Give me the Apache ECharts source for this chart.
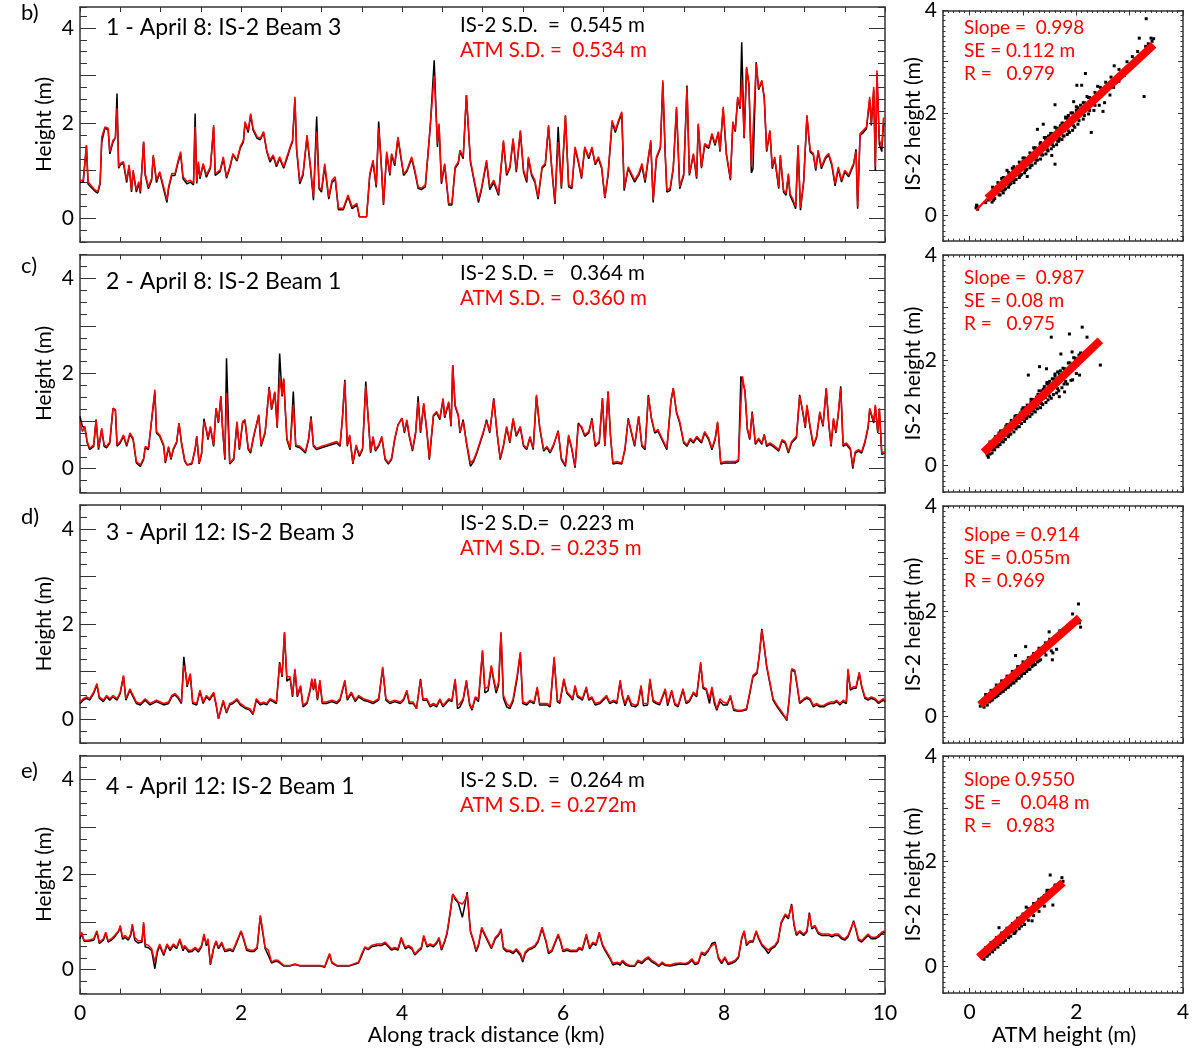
<!DOCTYPE html>
<html>
<head>
<meta charset="utf-8">
<script src="https://cdn.jsdelivr.net/npm/echarts@6/dist/echarts.min.js"></script>
<style>
html, body { margin: 0; padding: 0; background: #fff; }
#main { width: 1194px; height: 1048px; }
</style>
</head>
<body>
<div id="main"></div>
<script>
// ---- profile 1 : April 8, beam 3 ----
var dist1 = [
  0, 0.04, 0.08, 0.10, 0.15, 0.19, 0.22, 0.25, 0.27, 0.31,
  0.35, 0.37, 0.41, 0.44, 0.46, 0.48, 0.50, 0.54, 0.58, 0.61,
  0.64, 0.66, 0.70, 0.73, 0.75, 0.79, 0.81, 0.85, 0.89, 0.91,
  0.95, 0.99, 1.04, 1.08, 1.10, 1.14, 1.18, 1.22, 1.25, 1.28,
  1.33, 1.37, 1.41, 1.43, 1.45, 1.47, 1.49, 1.53, 1.57, 1.62,
  1.66, 1.68, 1.74, 1.78, 1.82, 1.86, 1.90, 1.95, 1.99, 2.03,
  2.05, 2.09, 2.12, 2.15, 2.20, 2.24, 2.28, 2.32, 2.36, 2.40,
  2.44, 2.48, 2.53, 2.57, 2.61, 2.64, 2.67, 2.69, 2.73, 2.77,
  2.82, 2.86, 2.90, 2.94, 2.97, 3.00, 3.04, 3.09, 3.13, 3.17,
  3.21, 3.27, 3.33, 3.38, 3.44, 3.47, 3.56, 3.60, 3.64, 3.68,
  3.71, 3.74, 3.77, 3.81, 3.85, 3.87, 3.91, 3.95, 4.02, 4.06,
  4.12, 4.16, 4.20, 4.24, 4.29, 4.35, 4.40, 4.44, 4.46, 4.49,
  4.53, 4.58, 4.62, 4.66, 4.70, 4.72, 4.76, 4.80, 4.85, 4.89,
  4.95, 4.99, 5.05, 5.09, 5.14, 5.20, 5.26, 5.30, 5.34, 5.38,
  5.42, 5.47, 5.49, 5.51, 5.55, 5.57, 5.61, 5.65, 5.69, 5.74,
  5.78, 5.82, 5.86, 5.90, 5.94, 5.98, 6.03, 6.07, 6.11, 6.15,
  6.19, 6.23, 6.27, 6.32, 6.36, 6.40, 6.44, 6.48, 6.52, 6.56,
  6.61, 6.65, 6.69, 6.73, 6.76, 6.81, 6.85, 6.89, 6.94, 6.98,
  7.02, 7.06, 7.09, 7.12, 7.16, 7.21, 7.24, 7.27, 7.29, 7.33,
  7.37, 7.41, 7.45, 7.50, 7.54, 7.57, 7.62, 7.66, 7.68, 7.72,
  7.76, 7.81, 7.85, 7.89, 7.93, 7.95, 7.99, 8.03, 8.08, 8.11,
  8.14, 8.17, 8.20, 8.22, 8.25, 8.28, 8.31, 8.34, 8.36, 8.40,
  8.43, 8.47, 8.50, 8.53, 8.57, 8.60, 8.63, 8.68, 8.70, 8.74,
  8.77, 8.80, 8.82, 8.86, 8.89, 8.92, 8.95, 8.99, 9.03, 9.07,
  9.11, 9.14, 9.17, 9.21, 9.26, 9.30, 9.34, 9.38, 9.42, 9.46,
  9.50, 9.55, 9.59, 9.61, 9.64, 9.66, 9.69, 9.73, 9.77, 9.81,
  9.83, 9.86, 9.88, 9.90, 9.93, 9.96, 9.98, 10.0
];
var atm1 = [
  0.80, 0.80, 1.54, 0.77, 0.66, 0.59, 0.56, 0.75, 1.71, 1.92,
  1.89, 1.40, 1.64, 1.68, 2.31, 1.08, 1.15, 1.19, 0.80, 1.12,
  0.59, 1.01, 0.59, 0.77, 0.56, 1.61, 0.94, 0.66, 0.84, 1.33,
  0.80, 0.98, 0.66, 0.38, 0.66, 0.94, 0.94, 1.22, 1.40, 0.87,
  0.77, 0.80, 0.73, 1.92, 0.77, 1.19, 0.87, 1.15, 0.91, 1.08,
  1.96, 0.94, 1.01, 1.29, 0.87, 1.08, 1.36, 1.22, 1.50, 1.64,
  2.03, 1.85, 2.20, 1.89, 1.71, 1.68, 1.82, 1.43, 1.22, 1.33,
  1.12, 1.29, 1.08, 1.29, 1.50, 1.64, 2.55, 1.50, 0.77, 0.94,
  1.75, 1.15, 0.45, 1.82, 0.66, 0.59, 1.15, 0.45, 0.80, 0.87,
  0.21, 0.21, 0.49, 0.24, 0.31, 0.03, 0.03, 0.94, 1.22, 0.70,
  1.89, 1.22, 0.31, 1.40, 0.94, 1.36, 1.15, 1.71, 0.94, 1.01,
  1.29, 1.01, 0.66, 0.63, 0.70, 1.92, 3.00, 1.57, 1.99, 0.77,
  1.15, 0.31, 0.31, 1.08, 1.19, 1.43, 1.29, 2.59, 1.22, 0.87,
  0.38, 0.66, 1.22, 0.66, 0.80, 0.52, 1.64, 0.94, 1.08, 1.68,
  1.01, 1.85, 1.89, 1.01, 0.80, 1.29, 0.94, 0.80, 0.45, 1.08,
  1.15, 1.96, 1.08, 0.35, 1.60, 0.66, 2.17, 0.70, 0.66, 1.50,
  1.22, 0.87, 1.50, 1.29, 1.50, 1.15, 1.29, 1.08, 0.45, 0.94,
  2.06, 1.85, 2.06, 2.24, 0.63, 1.08, 0.94, 0.80, 0.94, 1.15,
  0.80, 1.29, 1.64, 0.38, 1.29, 1.50, 2.90, 1.36, 0.59, 0.63,
  1.08, 2.34, 0.66, 0.94, 2.76, 0.94, 1.36, 0.87, 1.99, 1.08,
  1.57, 1.50, 1.78, 1.57, 1.82, 1.43, 2.34, 1.36, 0.84, 2.03,
  1.85, 2.55, 2.34, 2.90, 1.71, 3.18, 2.83, 1.08, 1.08, 3.25,
  2.73, 2.90, 2.55, 1.43, 1.85, 1.08, 1.29, 0.66, 1.33, 0.59,
  0.52, 0.94, 0.52, 0.38, 0.24, 1.54, 0.21, 0.80, 2.17, 1.43,
  1.36, 1.05, 1.43, 1.08, 1.29, 1.36, 1.15, 0.73, 1.08, 0.80,
  1.01, 0.91, 1.08, 1.15, 1.40, 0.24, 1.78, 1.85, 1.92, 2.55,
  1.99, 2.76, 1.08, 3.11, 1.64, 1.50, 2.10, 2.10
];
var is2_1 = [
  0.75, 0.76, 1.52, 0.72, 0.63, 0.56, 0.53, 0.72, 1.60, 1.90,
  1.85, 1.35, 1.60, 1.70, 2.62, 1.05, 1.12, 1.15, 0.75, 1.10,
  0.55, 0.98, 0.55, 0.73, 0.52, 1.60, 0.90, 0.62, 0.80, 1.30,
  0.75, 0.95, 0.60, 0.33, 0.62, 0.90, 0.90, 1.18, 1.35, 0.83,
  0.72, 0.76, 0.70, 2.20, 0.73, 1.15, 0.83, 1.12, 0.86, 1.05,
  1.92, 0.90, 0.98, 1.25, 0.84, 1.05, 1.33, 1.20, 1.47, 1.60,
  2.00, 1.80, 2.17, 1.85, 1.68, 1.65, 1.80, 1.40, 1.18, 1.30,
  1.08, 1.25, 1.05, 1.25, 1.47, 1.60, 2.50, 1.45, 0.72, 0.90,
  1.70, 1.10, 0.38, 2.14, 0.62, 0.55, 1.10, 0.40, 0.75, 0.82,
  0.18, 0.18, 0.45, 0.20, 0.28, 0.03, 0.03, 0.90, 1.18, 0.65,
  2.03, 1.18, 0.28, 1.35, 0.90, 1.33, 1.10, 1.68, 0.90, 0.98,
  1.25, 0.97, 0.63, 0.60, 0.66, 1.90, 3.32, 1.50, 1.95, 0.72,
  1.12, 0.28, 0.28, 1.05, 1.15, 1.40, 1.25, 2.59, 1.18, 0.83,
  0.33, 0.62, 1.18, 0.60, 0.75, 0.48, 1.60, 0.90, 1.05, 1.65,
  0.97, 1.82, 1.85, 0.97, 0.75, 1.25, 0.90, 0.76, 0.40, 1.05,
  1.12, 1.92, 1.04, 0.30, 1.92, 0.62, 2.15, 0.66, 0.62, 1.47,
  1.18, 0.83, 1.47, 1.25, 1.47, 1.12, 1.25, 1.05, 0.42, 0.90,
  2.02, 1.80, 2.02, 2.20, 0.58, 1.05, 0.90, 0.76, 0.90, 1.10,
  0.75, 1.25, 1.60, 0.33, 1.25, 1.47, 2.85, 1.33, 0.55, 0.58,
  1.05, 2.30, 0.62, 0.90, 2.79, 0.90, 1.33, 0.83, 1.96, 1.05,
  1.53, 1.47, 1.75, 1.53, 1.80, 1.40, 2.30, 1.33, 0.80, 2.00,
  1.82, 2.52, 2.30, 3.70, 1.68, 3.15, 2.80, 0.95, 1.04, 3.28,
  2.70, 2.87, 2.52, 1.40, 1.82, 1.04, 1.25, 0.62, 1.30, 0.55,
  0.48, 0.90, 0.48, 0.33, 0.20, 1.50, 0.17, 0.76, 2.14, 1.40,
  1.33, 1.00, 1.40, 1.04, 1.25, 1.33, 1.10, 0.68, 1.04, 0.76,
  0.97, 0.87, 1.04, 1.12, 1.45, 0.20, 1.74, 1.80, 1.88, 2.50,
  1.95, 2.70, 1.00, 3.05, 1.55, 1.40, 1.95, 2.00
];

// ---- profile 2 : April 8, beam 1 ----
var dist2 = [
  0, 0.03, 0.06, 0.09, 0.12, 0.17, 0.20, 0.23, 0.27, 0.30,
  0.33, 0.37, 0.41, 0.44, 0.46, 0.50, 0.54, 0.58, 0.62, 0.66,
  0.70, 0.75, 0.79, 0.81, 0.85, 0.88, 0.90, 0.93, 0.95, 0.99,
  1.04, 1.06, 1.10, 1.13, 1.16, 1.20, 1.23, 1.26, 1.30, 1.33,
  1.39, 1.43, 1.45, 1.48, 1.51, 1.54, 1.57, 1.59, 1.62, 1.66,
  1.69, 1.72, 1.75, 1.77, 1.80, 1.82, 1.86, 1.91, 1.95, 1.98,
  2.02, 2.05, 2.09, 2.12, 2.15, 2.22, 2.25, 2.30, 2.35, 2.38,
  2.42, 2.45, 2.48, 2.51, 2.53, 2.57, 2.61, 2.65, 2.68, 2.73,
  2.80, 2.84, 2.87, 2.90, 2.94, 3.00, 3.06, 3.13, 3.19, 3.23,
  3.26, 3.29, 3.32, 3.35, 3.39, 3.43, 3.47, 3.51, 3.55, 3.58,
  3.61, 3.64, 3.67, 3.71, 3.75, 3.79, 3.83, 3.87, 3.91, 3.95,
  4.00, 4.03, 4.06, 4.09, 4.13, 4.17, 4.20, 4.23, 4.27, 4.31,
  4.34, 4.39, 4.43, 4.47, 4.51, 4.53, 4.58, 4.61, 4.63, 4.66,
  4.70, 4.72, 4.76, 4.80, 4.85, 4.89, 4.93, 4.97, 5.01, 5.05,
  5.09, 5.14, 5.18, 5.22, 5.26, 5.30, 5.34, 5.38, 5.42, 5.47,
  5.51, 5.55, 5.59, 5.63, 5.67, 5.71, 5.76, 5.80, 5.84, 5.88,
  5.94, 5.98, 6.03, 6.07, 6.11, 6.15, 6.19, 6.23, 6.27, 6.32,
  6.36, 6.40, 6.45, 6.49, 6.52, 6.56, 6.59, 6.62, 6.67, 6.73,
  6.77, 6.81, 6.85, 6.89, 6.94, 6.98, 7.02, 7.06, 7.10, 7.14,
  7.18, 7.23, 7.29, 7.34, 7.37, 7.41, 7.45, 7.50, 7.54, 7.58,
  7.62, 7.66, 7.72, 7.76, 7.81, 7.85, 7.89, 7.92, 7.96, 8.01,
  8.08, 8.14, 8.18, 8.21, 8.23, 8.26, 8.29, 8.32, 8.35, 8.39,
  8.43, 8.47, 8.50, 8.53, 8.57, 8.61, 8.68, 8.72, 8.76, 8.80,
  8.84, 8.90, 8.94, 8.98, 9.01, 9.03, 9.07, 9.11, 9.15, 9.19,
  9.23, 9.27, 9.30, 9.33, 9.36, 9.39, 9.42, 9.45, 9.48, 9.52,
  9.57, 9.60, 9.63, 9.67, 9.71, 9.75, 9.79, 9.81, 9.86, 9.88,
  9.91, 9.93, 9.96, 10.0
];
var atm2 = [
  0.99, 0.78, 0.89, 0.57, 0.43, 0.50, 1.03, 0.43, 0.85, 0.50,
  0.47, 0.57, 1.27, 1.24, 0.50, 0.57, 0.71, 0.50, 0.75, 0.64,
  0.15, 0.08, 0.22, 0.47, 0.43, 0.89, 1.20, 1.66, 0.78, 0.71,
  0.50, 0.15, 0.47, 0.22, 0.43, 0.57, 0.96, 0.57, 0.19, 0.08,
  0.12, 0.43, 0.68, 0.12, 0.33, 0.99, 0.82, 0.64, 0.89, 0.50,
  1.27, 0.99, 1.52, 0.89, 0.22, 1.59, 0.12, 0.22, 0.99, 0.43,
  0.99, 1.03, 0.43, 0.36, 0.64, 1.13, 0.50, 0.78, 1.69, 1.27,
  1.62, 0.89, 1.90, 1.55, 1.90, 0.64, 0.43, 1.34, 0.50, 0.47,
  0.36, 0.64, 1.06, 0.50, 0.43, 0.47, 0.50, 0.54, 0.57, 0.50,
  1.06, 1.83, 0.50, 0.71, 0.12, 0.50, 0.29, 0.43, 1.73, 1.06,
  0.36, 0.68, 0.40, 0.50, 0.68, 0.22, 0.12, 0.22, 0.64, 0.92,
  1.06, 0.78, 1.03, 0.71, 0.40, 0.78, 1.41, 0.78, 1.38, 0.78,
  0.22, 1.13, 1.20, 1.06, 1.48, 1.10, 1.41, 0.92, 2.18, 1.34,
  1.13, 0.78, 0.99, 0.57, 0.12, 0.19, 0.36, 0.57, 0.78, 0.99,
  0.78, 1.45, 0.78, 0.22, 0.50, 0.89, 0.57, 1.06, 0.71, 0.89,
  0.50, 0.43, 0.68, 0.43, 1.55, 0.89, 0.40, 0.47, 0.36, 0.50,
  0.78, 0.22, 0.08, 0.71, 0.43, 0.05, 0.92, 0.89, 0.71, 0.78,
  1.03, 0.50, 0.57, 1.48, 0.50, 1.62, 0.71, 0.12, 0.15, 0.12,
  0.43, 1.03, 0.78, 0.50, 1.10, 0.50, 0.43, 1.52, 1.06, 0.78,
  0.82, 0.64, 0.43, 1.41, 1.69, 1.20, 0.99, 0.57, 0.50, 0.64,
  0.57, 0.68, 0.57, 0.78, 0.64, 0.43, 0.64, 0.99, 0.12, 0.15,
  0.15, 0.15, 0.19, 1.34, 1.94, 1.62, 0.85, 0.64, 1.17, 0.54,
  0.64, 0.54, 0.71, 0.50, 0.54, 0.50, 0.40, 0.61, 0.57, 0.36,
  0.57, 0.68, 1.52, 1.20, 0.89, 1.34, 0.89, 0.50, 0.68, 1.20,
  0.92, 1.69, 0.99, 0.50, 1.06, 0.78, 1.17, 1.69, 0.50, 0.54,
  0.43, 0.05, 0.36, 0.40, 0.36, 0.57, 0.89, 1.27, 0.99, 1.34,
  0.78, 1.27, 0.33, 0.36
];
var is2_2 = [
  1.10, 0.89, 0.86, 0.54, 0.40, 0.47, 1.03, 0.40, 0.82, 0.47,
  0.44, 0.54, 1.27, 1.22, 0.47, 0.54, 0.68, 0.47, 0.72, 0.61,
  0.12, 0.05, 0.19, 0.44, 0.40, 0.86, 1.17, 1.60, 0.75, 0.68,
  0.47, 0.12, 0.44, 0.19, 0.40, 0.54, 0.96, 0.54, 0.16, 0.08,
  0.10, 0.40, 0.68, 0.10, 0.30, 1.05, 0.80, 0.61, 0.86, 0.47,
  1.27, 0.96, 1.52, 0.86, 0.19, 2.32, 0.10, 0.19, 0.96, 0.40,
  0.96, 1.00, 0.40, 0.33, 0.61, 1.13, 0.47, 0.75, 1.72, 1.24,
  1.60, 0.86, 2.42, 1.52, 1.88, 0.61, 0.40, 1.62, 0.47, 0.44,
  0.33, 0.61, 1.10, 0.47, 0.40, 0.44, 0.47, 0.51, 0.54, 0.47,
  1.06, 1.87, 0.47, 0.68, 0.10, 0.47, 0.26, 0.40, 1.83, 1.06,
  0.33, 0.65, 0.37, 0.47, 0.65, 0.19, 0.10, 0.19, 0.61, 0.92,
  1.06, 0.75, 1.00, 0.68, 0.37, 0.75, 1.52, 0.75, 1.35, 0.75,
  0.19, 1.10, 1.17, 1.03, 1.45, 1.07, 1.38, 0.89, 2.18, 1.31,
  1.10, 0.75, 1.03, 0.54, 0.05, 0.15, 0.33, 0.54, 0.75, 1.03,
  0.75, 1.48, 0.75, 0.19, 0.47, 0.86, 0.54, 1.03, 0.68, 0.86,
  0.47, 0.40, 0.65, 0.40, 1.52, 0.86, 0.37, 0.44, 0.33, 0.47,
  0.80, 0.19, 0.05, 0.68, 0.40, 0.02, 0.96, 0.86, 0.68, 0.75,
  1.06, 0.47, 0.54, 1.48, 0.47, 1.62, 0.68, 0.10, 0.12, 0.10,
  0.40, 1.06, 0.75, 0.47, 1.10, 0.47, 0.40, 1.55, 1.03, 0.75,
  0.79, 0.61, 0.40, 1.41, 1.69, 1.17, 0.96, 0.54, 0.47, 0.61,
  0.54, 0.65, 0.54, 0.75, 0.61, 0.40, 0.61, 0.96, 0.10, 0.12,
  0.12, 0.12, 0.16, 1.94, 1.97, 1.65, 0.82, 0.61, 1.20, 0.51,
  0.61, 0.51, 0.72, 0.47, 0.51, 0.47, 0.37, 0.58, 0.54, 0.33,
  0.54, 0.65, 1.55, 1.17, 0.86, 1.31, 0.86, 0.47, 0.65, 1.17,
  0.89, 1.69, 0.96, 0.47, 1.03, 0.75, 1.14, 1.73, 0.47, 0.51,
  0.40, 0.00, 0.33, 0.37, 0.33, 0.54, 0.86, 1.24, 0.96, 1.31,
  0.75, 1.24, 0.30, 0.33
];

// ---- profile 3 : April 12, beam 3 ----
var dist3 = [
  0, 0.04, 0.08, 0.12, 0.17, 0.21, 0.24, 0.29, 0.33, 0.37,
  0.41, 0.46, 0.50, 0.54, 0.57, 0.62, 0.66, 0.70, 0.75, 0.81,
  0.87, 0.95, 1.04, 1.10, 1.14, 1.18, 1.22, 1.26, 1.29, 1.32,
  1.33, 1.37, 1.40, 1.45, 1.49, 1.53, 1.57, 1.61, 1.66, 1.69,
  1.72, 1.75, 1.78, 1.82, 1.86, 1.90, 1.95, 1.99, 2.05, 2.11,
  2.15, 2.19, 2.24, 2.28, 2.32, 2.36, 2.40, 2.44, 2.48, 2.51,
  2.54, 2.57, 2.61, 2.64, 2.67, 2.70, 2.74, 2.77, 2.82, 2.86,
  2.88, 2.90, 2.92, 2.95, 2.98, 3.01, 3.06, 3.13, 3.19, 3.23,
  3.29, 3.32, 3.37, 3.42, 3.46, 3.52, 3.58, 3.64, 3.71, 3.76,
  3.80, 3.85, 3.91, 3.98, 4.02, 4.06, 4.09, 4.14, 4.18, 4.23,
  4.26, 4.31, 4.35, 4.39, 4.43, 4.47, 4.51, 4.58, 4.62, 4.66,
  4.69, 4.72, 4.76, 4.80, 4.84, 4.87, 4.91, 4.95, 5.00, 5.03,
  5.07, 5.11, 5.14, 5.17, 5.20, 5.23, 5.26, 5.30, 5.34, 5.38,
  5.43, 5.47, 5.50, 5.55, 5.59, 5.64, 5.68, 5.71, 5.76, 5.80,
  5.84, 5.89, 5.93, 5.96, 6.01, 6.05, 6.09, 6.12, 6.15, 6.18,
  6.21, 6.24, 6.29, 6.32, 6.36, 6.40, 6.46, 6.50, 6.54, 6.58,
  6.63, 6.67, 6.71, 6.74, 6.77, 6.81, 6.85, 6.90, 6.93, 6.97,
  7.00, 7.05, 7.08, 7.12, 7.16, 7.20, 7.27, 7.30, 7.35, 7.39,
  7.43, 7.49, 7.53, 7.57, 7.62, 7.66, 7.71, 7.74, 7.78, 7.82,
  7.85, 7.88, 7.91, 7.95, 7.99, 8.04, 8.08, 8.12, 8.16, 8.22,
  8.28, 8.32, 8.36, 8.41, 8.44, 8.47, 8.50, 8.53, 8.57, 8.61,
  8.66, 8.72, 8.76, 8.78, 8.81, 8.84, 8.88, 8.91, 8.94, 8.99,
  9.03, 9.07, 9.11, 9.15, 9.19, 9.24, 9.28, 9.32, 9.36, 9.40,
  9.44, 9.48, 9.52, 9.54, 9.57, 9.61, 9.64, 9.68, 9.71, 9.75,
  9.79, 9.83, 9.88, 9.92, 9.94, 9.98, 10.0
];
var atm3 = [
  0.36, 0.43, 0.47, 0.43, 0.57, 0.75, 0.47, 0.40, 0.50, 0.43,
  0.50, 0.43, 0.57, 0.92, 0.43, 0.64, 0.50, 0.36, 0.33, 0.43,
  0.33, 0.40, 0.33, 0.36, 0.50, 0.54, 0.47, 0.36, 1.13, 0.92,
  0.71, 0.96, 0.36, 0.33, 0.61, 0.36, 0.50, 0.43, 0.57, 0.33,
  0.01, 0.22, 0.40, 0.15, 0.33, 0.36, 0.43, 0.33, 0.26, 0.22,
  0.12, 0.43, 0.33, 0.36, 0.33, 0.43, 0.40, 0.36, 1.17, 0.92,
  1.83, 0.89, 0.89, 0.50, 1.06, 0.50, 0.71, 0.29, 0.36, 0.64,
  0.85, 0.64, 0.85, 0.43, 0.82, 0.36, 0.36, 0.40, 0.36, 0.43,
  0.82, 0.43, 0.57, 0.40, 0.50, 0.43, 0.40, 0.36, 0.43, 1.10,
  0.43, 0.36, 0.40, 0.36, 0.43, 0.61, 0.36, 0.36, 0.22, 0.82,
  0.43, 0.43, 0.29, 0.33, 0.29, 0.43, 0.29, 0.43, 0.40, 0.85,
  0.29, 0.33, 0.43, 0.82, 0.33, 0.22, 0.47, 0.43, 1.45, 0.64,
  0.68, 1.13, 0.85, 0.61, 0.78, 1.83, 0.50, 0.33, 0.26, 0.43,
  0.92, 1.41, 0.36, 0.33, 0.40, 0.36, 0.68, 0.33, 0.33, 0.33,
  0.29, 1.31, 0.40, 0.36, 0.85, 0.57, 0.50, 0.43, 0.71, 0.50,
  0.47, 0.43, 0.68, 0.43, 0.47, 0.33, 0.36, 0.43, 0.50, 0.36,
  0.40, 0.36, 0.82, 0.50, 0.33, 0.50, 0.33, 0.29, 0.33, 0.71,
  0.33, 0.33, 0.85, 0.40, 0.36, 0.33, 0.64, 0.33, 0.61, 0.33,
  0.29, 0.64, 0.36, 0.40, 0.57, 0.50, 1.20, 0.68, 0.64, 0.43,
  0.68, 0.40, 0.22, 0.43, 0.36, 0.33, 0.50, 0.22, 0.19, 0.19,
  0.22, 0.57, 0.92, 0.99, 1.38, 1.87, 1.54, 1.13, 0.78, 0.43,
  0.29, 0.15, 0.05, -0.02, 0.43, 1.06, 1.03, 0.71, 0.36, 0.43,
  0.47, 0.43, 0.29, 0.33, 0.29, 0.29, 0.33, 0.36, 0.36, 0.40,
  0.33, 0.40, 0.36, 1.06, 0.64, 0.68, 0.68, 0.99, 0.71, 0.47,
  0.43, 0.47, 0.43, 0.36, 0.33, 0.43, 0.40
];
var is2_3 = [
  0.33, 0.40, 0.44, 0.40, 0.54, 0.72, 0.44, 0.37, 0.47, 0.40,
  0.47, 0.40, 0.54, 0.90, 0.40, 0.61, 0.47, 0.33, 0.30, 0.40,
  0.30, 0.37, 0.30, 0.33, 0.47, 0.51, 0.44, 0.33, 1.31, 0.85,
  0.68, 0.93, 0.33, 0.30, 0.58, 0.33, 0.47, 0.40, 0.54, 0.30,
  0.01, 0.19, 0.37, 0.13, 0.30, 0.33, 0.40, 0.30, 0.23, 0.19,
  0.10, 0.40, 0.30, 0.33, 0.30, 0.40, 0.37, 0.33, 1.20, 0.89,
  1.80, 0.80, 0.86, 0.47, 1.03, 0.47, 0.68, 0.26, 0.33, 0.61,
  0.82, 0.61, 0.82, 0.40, 0.79, 0.33, 0.33, 0.37, 0.33, 0.40,
  0.79, 0.40, 0.54, 0.37, 0.47, 0.40, 0.37, 0.33, 0.40, 1.07,
  0.40, 0.33, 0.37, 0.33, 0.40, 0.58, 0.33, 0.33, 0.22, 0.85,
  0.40, 0.40, 0.26, 0.30, 0.26, 0.40, 0.26, 0.40, 0.37, 0.82,
  0.22, 0.26, 0.40, 0.79, 0.30, 0.19, 0.44, 0.37, 1.42, 0.55,
  0.60, 1.10, 0.80, 0.55, 0.72, 1.80, 0.44, 0.26, 0.22, 0.38,
  0.85, 1.38, 0.33, 0.30, 0.37, 0.33, 0.65, 0.30, 0.30, 0.30,
  0.26, 1.28, 0.37, 0.33, 0.82, 0.54, 0.47, 0.40, 0.68, 0.47,
  0.44, 0.40, 0.65, 0.40, 0.44, 0.30, 0.33, 0.40, 0.47, 0.33,
  0.37, 0.33, 0.79, 0.47, 0.28, 0.47, 0.28, 0.26, 0.30, 0.68,
  0.28, 0.30, 0.82, 0.37, 0.33, 0.30, 0.61, 0.28, 0.58, 0.30,
  0.26, 0.61, 0.33, 0.37, 0.54, 0.47, 1.17, 0.65, 0.61, 0.33,
  0.65, 0.33, 0.19, 0.37, 0.30, 0.30, 0.47, 0.19, 0.17, 0.17,
  0.20, 0.54, 0.89, 0.96, 1.35, 1.90, 1.51, 1.10, 0.75, 0.40,
  0.26, 0.12, 0.03, -0.03, 0.40, 1.03, 1.00, 0.68, 0.33, 0.40,
  0.44, 0.40, 0.26, 0.30, 0.26, 0.26, 0.30, 0.33, 0.33, 0.37,
  0.30, 0.37, 0.33, 1.03, 0.61, 0.65, 0.65, 0.96, 0.68, 0.44,
  0.40, 0.44, 0.40, 0.33, 0.30, 0.40, 0.37
];

// ---- profile 4 : April 12, beam 1 ----
var dist4 = [
  0, 0.02, 0.05, 0.10, 0.17, 0.21, 0.24, 0.29, 0.32, 0.35,
  0.39, 0.43, 0.48, 0.50, 0.53, 0.56, 0.60, 0.63, 0.65, 0.68,
  0.72, 0.77, 0.79, 0.81, 0.85, 0.89, 0.93, 0.96, 0.99, 1.01,
  1.04, 1.08, 1.12, 1.16, 1.20, 1.24, 1.28, 1.30, 1.35, 1.39,
  1.43, 1.47, 1.51, 1.54, 1.57, 1.59, 1.62, 1.66, 1.69, 1.72,
  1.76, 1.80, 1.86, 1.90, 1.95, 2.00, 2.03, 2.07, 2.12, 2.16,
  2.20, 2.24, 2.27, 2.30, 2.34, 2.38, 2.42, 2.46, 2.53, 2.61,
  2.67, 2.73, 2.82, 2.90, 2.98, 3.04, 3.10, 3.13, 3.19, 3.27,
  3.35, 3.46, 3.50, 3.54, 3.58, 3.62, 3.69, 3.75, 3.79, 3.83,
  3.87, 3.91, 3.95, 3.99, 4.04, 4.08, 4.12, 4.16, 4.20, 4.24,
  4.27, 4.31, 4.35, 4.39, 4.43, 4.46, 4.49, 4.53, 4.56, 4.60,
  4.63, 4.66, 4.70, 4.72, 4.75, 4.78, 4.81, 4.85, 4.89, 4.92,
  4.95, 4.99, 5.03, 5.07, 5.11, 5.16, 5.20, 5.23, 5.26, 5.30,
  5.34, 5.38, 5.42, 5.47, 5.50, 5.53, 5.57, 5.61, 5.65, 5.69,
  5.74, 5.76, 5.79, 5.82, 5.86, 5.90, 5.94, 5.97, 6.00, 6.05,
  6.09, 6.13, 6.17, 6.20, 6.24, 6.29, 6.33, 6.37, 6.41, 6.45,
  6.49, 6.53, 6.58, 6.62, 6.67, 6.71, 6.74, 6.78, 6.83, 6.89,
  6.93, 6.98, 7.02, 7.06, 7.10, 7.14, 7.19, 7.23, 7.27, 7.33,
  7.39, 7.45, 7.52, 7.56, 7.60, 7.64, 7.68, 7.72, 7.76, 7.80,
  7.85, 7.89, 7.93, 7.97, 8.01, 8.05, 8.09, 8.14, 8.18, 8.22,
  8.25, 8.28, 8.32, 8.36, 8.40, 8.43, 8.47, 8.51, 8.55, 8.59,
  8.63, 8.67, 8.71, 8.76, 8.80, 8.84, 8.87, 8.90, 8.94, 8.99,
  9.03, 9.06, 9.09, 9.13, 9.17, 9.21, 9.26, 9.30, 9.34, 9.38,
  9.42, 9.46, 9.50, 9.54, 9.58, 9.61, 9.64, 9.67, 9.71, 9.75,
  9.79, 9.83, 9.88, 9.92, 9.96, 10.0
];
var atm4 = [
  0.72, 0.79, 0.62, 0.62, 0.65, 0.82, 0.58, 0.65, 0.79, 0.61,
  0.65, 0.72, 0.82, 0.93, 0.68, 0.72, 0.65, 0.75, 0.96, 0.68,
  0.61, 0.61, 1.00, 0.54, 0.51, 0.44, 0.16, 0.41, 0.54, 0.58,
  0.33, 0.54, 0.44, 0.54, 0.47, 0.65, 0.44, 0.51, 0.41, 0.41,
  0.47, 0.41, 0.51, 0.75, 0.54, 0.65, 0.13, 0.47, 0.61, 0.47,
  0.58, 0.41, 0.44, 0.41, 0.61, 0.82, 0.68, 0.44, 0.41, 0.41,
  0.47, 1.14, 0.82, 0.47, 0.41, 0.16, 0.20, 0.20, 0.09, 0.09,
  0.12, 0.09, 0.09, 0.09, 0.09, 0.07, 0.34, 0.16, 0.09, 0.09,
  0.09, 0.16, 0.34, 0.48, 0.44, 0.51, 0.54, 0.54, 0.58, 0.51,
  0.44, 0.47, 0.44, 0.68, 0.47, 0.51, 0.47, 0.33, 0.41, 0.47,
  0.72, 0.51, 0.54, 0.51, 0.58, 0.68, 0.44, 0.61, 0.79, 1.24,
  1.59, 1.52, 1.42, 1.42, 1.38, 1.45, 1.59, 0.82, 0.61, 0.41,
  0.54, 0.89, 0.75, 0.61, 0.47, 0.68, 0.75, 0.86, 0.47, 0.41,
  0.41, 0.37, 0.44, 0.34, 0.20, 0.37, 0.44, 0.47, 0.51, 0.61,
  0.89, 0.93, 0.61, 0.37, 0.41, 0.58, 0.75, 0.61, 0.41, 0.44,
  0.41, 0.41, 0.41, 0.47, 0.44, 0.75, 0.47, 0.58, 0.54, 0.79,
  0.54, 0.41, 0.27, 0.13, 0.16, 0.13, 0.20, 0.13, 0.09, 0.09,
  0.20, 0.16, 0.23, 0.27, 0.20, 0.16, 0.09, 0.16, 0.11, 0.10,
  0.13, 0.14, 0.13, 0.16, 0.23, 0.14, 0.16, 0.37, 0.34, 0.41,
  0.51, 0.54, 0.27, 0.16, 0.27, 0.14, 0.16, 0.20, 0.28, 0.68,
  0.82, 0.54, 0.61, 0.61, 0.82, 0.68, 0.54, 0.47, 0.41, 0.47,
  0.51, 0.61, 1.00, 1.17, 1.10, 1.35, 0.96, 0.75, 0.82, 0.75,
  0.82, 1.17, 0.89, 0.93, 0.79, 0.75, 0.75, 0.75, 0.72, 0.75,
  0.75, 0.68, 0.65, 0.72, 0.89, 1.00, 0.86, 0.65, 0.61, 0.68,
  0.75, 0.68, 0.68, 0.72, 0.79, 0.82
];
var is2_4 = [
  0.65, 0.76, 0.60, 0.60, 0.62, 0.80, 0.55, 0.62, 0.76, 0.58,
  0.62, 0.69, 0.80, 0.90, 0.64, 0.68, 0.62, 0.72, 0.93, 0.62,
  0.56, 0.58, 0.97, 0.48, 0.46, 0.40, 0.02, 0.36, 0.50, 0.54,
  0.30, 0.51, 0.40, 0.51, 0.44, 0.62, 0.40, 0.48, 0.37, 0.38,
  0.44, 0.37, 0.48, 0.72, 0.50, 0.62, 0.10, 0.44, 0.58, 0.44,
  0.55, 0.38, 0.41, 0.38, 0.58, 0.80, 0.65, 0.41, 0.38, 0.38,
  0.44, 1.12, 0.78, 0.44, 0.30, 0.14, 0.17, 0.17, 0.08, 0.08,
  0.11, 0.08, 0.08, 0.08, 0.08, 0.05, 0.32, 0.14, 0.08, 0.08,
  0.08, 0.14, 0.30, 0.46, 0.42, 0.48, 0.51, 0.51, 0.55, 0.48,
  0.41, 0.44, 0.41, 0.65, 0.44, 0.48, 0.44, 0.31, 0.38, 0.44,
  0.70, 0.48, 0.51, 0.48, 0.55, 0.65, 0.41, 0.58, 0.76, 1.20,
  1.59, 1.48, 1.40, 1.38, 1.10, 1.35, 1.63, 0.80, 0.58, 0.38,
  0.50, 0.86, 0.72, 0.58, 0.44, 0.65, 0.72, 0.84, 0.44, 0.38,
  0.38, 0.34, 0.41, 0.30, 0.16, 0.34, 0.41, 0.44, 0.48, 0.58,
  0.86, 0.90, 0.58, 0.34, 0.38, 0.55, 0.72, 0.58, 0.38, 0.41,
  0.38, 0.38, 0.38, 0.44, 0.41, 0.72, 0.44, 0.55, 0.51, 0.76,
  0.51, 0.38, 0.24, 0.10, 0.13, 0.10, 0.17, 0.10, 0.07, 0.07,
  0.17, 0.13, 0.20, 0.24, 0.17, 0.13, 0.07, 0.13, 0.09, 0.08,
  0.10, 0.12, 0.11, 0.13, 0.20, 0.11, 0.13, 0.34, 0.30, 0.38,
  0.55, 0.58, 0.24, 0.13, 0.24, 0.11, 0.13, 0.17, 0.25, 0.65,
  0.80, 0.51, 0.58, 0.58, 0.80, 0.65, 0.51, 0.44, 0.34, 0.44,
  0.48, 0.58, 0.97, 1.14, 1.07, 1.38, 0.93, 0.72, 0.79, 0.72,
  0.79, 1.20, 0.86, 0.90, 0.76, 0.72, 0.72, 0.72, 0.69, 0.72,
  0.72, 0.65, 0.62, 0.69, 0.86, 1.03, 0.83, 0.62, 0.58, 0.65,
  0.72, 0.65, 0.65, 0.69, 0.76, 0.79
];

// ---- scatter: ATM height (x) vs IS-2 height (y) ----
var scAtm1 = [0.12,0.13,0.15,0.14,0.3,0.35,0.4,0.45,0.5,0.52, 0.55,0.58,0.6,0.62,0.65,0.68,0.7,0.72,0.75,0.78,
  0.8,0.82,0.85,0.88,0.9,0.92,0.95,0.98,1.0,1.02, 1.05,1.08,1.1,1.12,1.15,1.18,1.2,1.22,1.25,1.27,
  1.3,1.32,1.35,1.38,1.4,1.42,1.45,1.48,1.5,1.52, 1.54,1.56,1.6,1.6,1.62,1.65,1.68,1.7,1.72,1.75,
  1.78,1.8,1.82,1.85,1.88,1.9,1.92,1.95,1.98,2.0, 2.01,2.05,2.08,2.1,2.12,2.15,2.17,2.2,2.25,2.28,
  2.3,2.35,2.4,2.45,2.5,2.5,2.55,2.6,2.65,2.71, 2.75,2.8,2.85,2.9,2.95,3.0,3.05,3.1,3.18,3.22,
  3.27,3.3,3.31,3.35,3.4,3.42,
  0.45,0.55,0.65,0.75,0.85,0.95,1.05,1.15,1.25,1.35, 1.45,1.55,1.65,1.75,1.85,1.95,2.05,2.15,2.25,2.35,
  0.6,0.8,1.0,1.2,1.4,1.6,1.8,2.0,2.2,2.4];
var scIs2_1 = [0.15,0.2,0.12,0.18,0.25,0.3,0.42,0.38,0.55,0.45, 0.5,0.62,0.48,0.58,0.7,0.6,0.88,0.66,0.72,0.8,
  0.68,0.9,0.78,0.86,0.95,0.8,1.0,0.9,1.05,0.92, 1.1,0.76,1.0,1.15,1.05,1.2,1.1,1.3,1.15,1.68,
  1.25,1.4,1.2,1.78,1.35,1.5,1.3,1.55,1.4,1.6, 1.17,1.45,1.0,2.16,1.55,1.7,1.5,1.75,1.6,1.8,
  1.65,1.9,1.72,1.95,1.8,2.0,1.85,2.22,1.9,2.05, 2.54,1.95,2.15,2.54,2.05,2.2,2.77,2.1,2.3,1.62,
  2.2,2.4,2.3,2.5,2.03,2.45,2.6,2.5,2.7,2.92, 2.6,2.85,2.75,2.73,3.0,2.92,3.1,3.05,3.46,3.15,
  2.32,3.3,3.84,3.25,3.46,3.4,
  0.3,0.4,0.5,0.6,0.7,0.78,0.88,0.98,1.08,1.18, 1.28,1.38,1.45,1.55,1.65,1.75,1.85,1.95,2.05,2.15,
  0.72,0.92,1.12,1.32,1.52,1.72,1.92,2.12,2.32,2.52];
// dense band of points hugging the fit line
var bandAtm1 = [0.42,0.47,0.57,0.63,0.67,0.73,0.77,0.83,0.87,0.93, 0.97,1.03,1.07,1.13,1.17,1.23,1.27,1.33,1.37,1.43,
  1.47,1.53,1.57,1.63,1.67,1.73,1.77,1.83,1.87,1.93, 1.97,2.03,2.13,2.23,2.33,2.43,2.53,2.63,
  0.43,0.53,0.63,0.73,0.83,0.93,1.03,1.13,1.23,1.33, 1.43,1.53,1.63,1.73,1.83,1.93,2.03,2.13,2.23,
  2.7,2.8,2.95,3.05,3.15,3.25,3.35,3.45];
var bandIs2_1 = [0.26,0.33,0.40,0.44,0.52,0.55,0.62,0.64,0.70,0.74, 0.80,0.83,0.90,0.93,0.98,1.02,1.08,1.10,1.18,1.20,
  1.26,1.30,1.35,1.38,1.45,1.48,1.55,1.58,1.62,1.66, 1.72,1.78,1.88,1.98,2.05,2.15,2.20,2.35,
  0.55,0.64,0.74,0.84,0.95,1.04,1.12,1.22,1.32,1.42, 1.52,1.60,1.70,1.80,1.90,2.00,2.10,2.20,2.30,
  2.50,2.62,2.80,2.90,3.20,3.10,3.35,3.45];

var scAtm2 = [0.33,0.35,0.38,0.4,0.42,0.45,0.48,0.5,0.52,0.55, 0.58,0.6,0.62,0.65,0.68,0.7,0.72,0.75,0.78,0.8,
  0.82,0.85,0.88,0.9,0.92,0.95,0.98,1.0,1.02,1.05, 1.08,1.1,1.1,1.12,1.15,1.18,1.2,1.22,1.25,1.28,
  1.31,1.3,1.32,1.35,1.38,1.4,1.42,1.44,1.45,1.48, 1.5,1.53,1.52,1.55,1.58,1.6,1.62,1.65,1.68,1.7,
  1.71,1.72,1.75,1.78,1.8,1.85,1.87,1.9,1.92,1.93, 1.95,2.0,2.06,2.05,2.11,2.15,2.2,2.25,2.45,
  0.45,0.6,0.75,0.9,1.05,1.2,1.35,1.5,1.65,1.8, 0.55,0.7,0.85,1.0,1.15,1.3,1.45,1.6];
var scIs2_2 = [0.2,0.28,0.22,0.35,0.3,0.42,0.36,0.5,0.4,0.55, 0.48,0.6,0.52,0.66,0.58,0.72,0.62,0.78,0.68,0.82,
  0.72,0.9,0.78,0.95,0.82,1.0,0.88,1.05,0.92,1.1, 0.95,1.72,1.12,1.0,1.2,1.05,1.25,1.1,1.3,1.15,
  1.88,1.35,1.2,1.42,1.28,1.5,1.3,1.84,1.55,1.38, 1.6,2.44,1.45,1.65,1.5,1.7,1.55,1.78,1.31,1.8,
  2.12,1.62,1.85,1.4,1.75,1.95,2.5,1.85,2.16,1.63, 2.05,1.95,1.72,2.1,2.63,2.15,2.44,2.2,1.91,
  0.32,0.46,0.6,0.74,0.9,1.04,1.18,1.32,1.46,1.6, 0.62,0.78,0.94,1.1,1.26,1.42,1.58,1.74];
var bandAtm2 = [0.35,0.42,0.47,0.53,0.57,0.63,0.67,0.73,0.77,0.83, 0.87,0.93,0.97,1.03,1.07,1.13,1.17,1.23,1.27,1.33,
  1.37,1.43,1.47,1.53,1.57,1.63,1.67,1.73,1.77,1.83, 1.90,2.00,
  0.38,0.48,0.58,0.68,0.78,0.88,0.98,1.08,1.18,1.28, 1.38,1.48,1.58,1.68,1.78,1.88,1.98,2.08];
var bandIs2_2 = [0.16,0.24,0.30,0.36,0.40,0.45,0.50,0.55,0.60,0.64, 0.70,0.74,0.80,0.84,0.90,0.93,0.98,1.02,1.08,1.10,
  1.16,1.20,1.25,1.28,1.35,1.38,1.42,1.48,1.55,1.55, 1.62,1.75,
  0.45,0.55,0.66,0.75,0.86,0.95,1.06,1.15,1.25,1.35, 1.45,1.55,1.64,1.74,1.84,1.95,2.04,2.14];

var scAtm3 = [0.2,0.22,0.25,0.28,0.3,0.32,0.35,0.38,0.4,0.42, 0.45,0.48,0.5,0.52,0.55,0.58,0.6,0.62,0.65,0.68,
  0.7,0.72,0.75,0.78,0.8,0.82,0.85,0.86,0.88,0.9, 0.92,0.95,0.98,1.0,1.02,1.05,1.05,1.08,1.1,1.12,
  1.15,1.18,1.2,1.23,1.25,1.28,1.3,1.35,1.4,1.42, 1.45,1.49,1.5,1.55,1.56,1.6,1.63,1.65,1.69,1.75,
  1.85,1.93,2.04,2.08,2.06,
  0.4,0.5,0.6,0.7,0.8,0.9,1.0,1.1,1.2,1.3];
var scIs2_3 = [0.2,0.25,0.22,0.3,0.26,0.35,0.3,0.4,0.34,0.42, 0.38,0.48,0.42,0.52,0.46,0.56,0.5,0.6,0.54,0.65,
  0.58,0.7,0.62,0.74,0.68,0.78,0.72,1.16,0.82,0.76, 0.88,0.8,0.92,0.86,0.98,1.33,0.92,1.02,0.96,1.05,
  1.0,1.1,1.04,1.17,1.12,1.2,1.15,1.25,1.22,1.4, 1.3,1.61,1.35,1.08,1.21,1.5,1.28,1.55,1.63,1.62,
  1.72,1.95,2.14,1.7,1.78,
  0.3,0.38,0.47,0.55,0.64,0.73,0.82,0.9,0.98,1.06];
var bandAtm3 = [0.27,0.33,0.37,0.43,0.47,0.53,0.57,0.63,0.67,0.73, 0.77,0.83,0.87,0.93,0.97,1.03,1.07,1.13,1.17,1.23,
  1.27,1.33,1.43,1.53,
  0.30,0.40,0.50,0.60,0.70,0.80,0.90,1.00,1.10,1.20, 1.30,1.50];
var bandIs2_3 = [0.18,0.22,0.28,0.32,0.36,0.40,0.44,0.48,0.52,0.56, 0.60,0.64,0.68,0.73,0.77,0.82,0.86,0.90,0.95,0.99,
  1.04,1.08,1.17,1.25,
  0.42,0.50,0.60,0.68,0.77,0.86,0.95,1.04,1.12,1.20, 1.30,1.47];

var scAtm4 = [0.25,0.28,0.3,0.32,0.35,0.38,0.4,0.42,0.45,0.48, 0.5,0.52,0.55,0.55,0.58,0.6,0.62,0.65,0.68,0.7,
  0.72,0.75,0.78,0.8,0.82,0.85,0.85,0.88,0.9,0.92, 0.95,0.98,1.0,1.02,1.06,1.08,1.1,1.15,1.17,1.2,
  1.25,1.3,1.35,1.4,1.45,1.51,1.5,1.56,1.6,1.73, 1.75,
  0.4,0.5,0.6,0.7,0.8,0.9,1.0];
var scIs2_4 = [0.16,0.22,0.2,0.28,0.3,0.35,0.32,0.4,0.38,0.45, 0.42,0.5,0.74,0.48,0.55,0.52,0.6,0.56,0.65,0.6,
  0.7,0.66,0.75,0.7,0.8,0.64,0.76,0.85,0.8,0.88, 0.84,0.92,0.9,0.98,1.13,1.0,1.05,1.08,0.87,1.15,
  1.18,1.25,1.3,1.35,1.4,1.74,1.45,1.17,1.55,1.69, 1.62,
  0.3,0.39,0.48,0.58,0.67,0.76,0.85];
var bandAtm4 = [0.27,0.33,0.37,0.43,0.47,0.53,0.57,0.63,0.67,0.73, 0.77,0.83,0.87,0.93,0.97,1.03,1.10,1.20,1.30,1.40,
  0.30,0.40,0.50,0.60,0.70,0.80,0.90,1.00,1.10,1.20, 1.30,1.45];
var bandIs2_4 = [0.14,0.20,0.24,0.28,0.33,0.37,0.42,0.46,0.50,0.55, 0.58,0.63,0.68,0.72,0.77,0.80,0.88,0.97,1.05,1.15,
  0.36,0.46,0.55,0.64,0.73,0.82,0.92,1.00,1.10,1.20, 1.28,1.45];

// regression line end points (ATM x, IS-2 y)
var fitAtm1 = [0.33, 3.45], fitIs2_1 = [0.33, 3.33];
var fitAtm2 = [0.26, 2.45], fitIs2_2 = [0.25, 2.38];
var fitAtm3 = [0.19, 2.06], fitIs2_3 = [0.22, 1.88];
var fitAtm4 = [0.17, 1.75], fitIs2_4 = [0.18, 1.60];
var fitTailAtm1 = [0.12, 0.33], fitTailIs2_1 = [0.10, 0.33];

var panelTitles = ['1 - April 8: IS-2 Beam 3', '2 - April 8: IS-2 Beam 1', '3 - April 12: IS-2 Beam 3', '4 - April 12: IS-2 Beam 1'];
var panelTags = ['b)', 'c)', 'd)', 'e)'];
var is2Sd = ['IS-2 S.D.  =  0.545 m', 'IS-2 S.D. =   0.364 m', 'IS-2 S.D.=  0.223 m', 'IS-2 S.D.  =  0.264 m'];
var atmSd = ['ATM S.D. =  0.534 m', 'ATM S.D. =  0.360 m', 'ATM S.D. = 0.235 m', 'ATM S.D. = 0.272m'];
var fitStats = [
  ['Slope =  0.998', 'SE = 0.112 m', 'R =   0.979'],
  ['Slope =  0.987', 'SE = 0.08 m', 'R =   0.975'],
  ['Slope = 0.914', 'SE = 0.055m', 'R = 0.969'],
  ['Slope 0.9550', 'SE =    0.048 m', 'R =   0.983']
];

var dists = [dist1, dist2, dist3, dist4];
var atms = [atm1, atm2, atm3, atm4];
var is2s = [is2_1, is2_2, is2_3, is2_4];
var scAtms = [scAtm1.concat(bandAtm1), scAtm2.concat(bandAtm2), scAtm3.concat(bandAtm3), scAtm4.concat(bandAtm4)];
var scIs2s = [scIs2_1.concat(bandIs2_1), scIs2_2.concat(bandIs2_2), scIs2_3.concat(bandIs2_3), scIs2_4.concat(bandIs2_4)];
var fitAtms = [fitAtm1, fitAtm2, fitAtm3, fitAtm4];
var fitIs2s = [fitIs2_1, fitIs2_2, fitIs2_3, fitIs2_4];

// ---- layout ----
var FONT = 'Lato';
var AXC = '#333';
var RED = '#ff0000';
var leftTop = [7, 254.5, 505, 755.5], leftH = [235, 238, 238, 238], leftMax = [4.44, 4.5, 4.5, 4.5];
var rightTop = [7, 255, 506, 756], rightH = [234, 237, 237, 237];
var titleY = [28, 282, 533, 787], tagY = [13, 266, 517, 771];
var sdY = [25, 273, 523, 780], statY = [28, 278, 535, 780];

var grids = [], xAxes = [], yAxes = [], series = [], graphics = [];

function pairs(xs, ys) {
  return xs.map(function (x, i) { return [x, ys[i]]; });
}

function axis(kind, gi, pos, min, max, o) {
  var ax = {
    gridIndex: gi, type: 'value', position: pos, min: min, max: max,
    axisLine: {show: !!o.line, onZero: false, lineStyle: {color: AXC, width: 1.5}},
    axisTick: {show: true, inside: true, length: o.len, lineStyle: {color: AXC, width: 1}},
    axisLabel: {show: false},
    splitLine: {show: false}
  };
  if (o.interval) ax.interval = o.interval;
  if (o.ticks) ax.axisTick.customValues = o.ticks;
  if (o.labels) {
    ax.axisLabel = {show: true, customValues: o.labels, color: '#000',
      fontFamily: FONT, fontSize: 21, margin: o.margin};
  }
  var list = kind === 'x' ? xAxes : yAxes;
  list.push(ax);
  return list.length - 1;
}

function text(s, x, y, size, color, extra) {
  var el = {
    type: 'text', x: x, y: y, silent: true,
    style: {text: s, fill: color, font: size + 'px ' + FONT,
      align: 'left', verticalAlign: 'middle', textAlign: 'left', textVerticalAlign: 'middle'}
  };
  if (extra) {
    for (var k in extra) {
      if (k === 'style') { for (var s2 in extra.style) el.style[s2] = extra.style[s2]; }
      else el[k] = extra[k];
    }
  }
  graphics.push(el);
}

for (var r = 0; r < 4; r++) {
  // profile panel
  var gi = grids.length;
  grids.push({left: 80, top: leftTop[r], width: 805, height: leftH[r], containLabel: false});
  var xi = axis('x', gi, 'bottom', 0, 10, {line: true, interval: 0.5, len: 5,
    labels: r === 3 ? [0, 2, 4, 6, 8, 10] : null, margin: 9});
  axis('x', gi, 'top', 0, 10, {line: true, interval: 0.5, len: 5});
  var yi = axis('y', gi, 'left', -0.5, leftMax[r], {line: true, interval: 0.25, len: 7, labels: [0, 2, 4], margin: 6});
  axis('y', gi, 'left', -0.5, leftMax[r], {ticks: [0, 1, 2, 3, 4], len: 16});
  axis('y', gi, 'right', -0.5, leftMax[r], {line: true, interval: 0.25, len: 7});
  axis('y', gi, 'right', -0.5, leftMax[r], {ticks: [0, 1, 2, 3, 4], len: 16});

  series.push({type: 'line', xAxisIndex: xi, yAxisIndex: yi, data: pairs(dists[r], is2s[r]),
    showSymbol: false, lineStyle: {color: '#000', width: 1.5}, z: 2});
  series.push({type: 'line', xAxisIndex: xi, yAxisIndex: yi, data: pairs(dists[r], atms[r]),
    showSymbol: false, lineStyle: {color: RED, width: 1.5}, z: 3});

  // scatter panel
  var sg = grids.length;
  grids.push({left: 943, top: rightTop[r], width: 240, height: rightH[r], containLabel: false});
  var sx = axis('x', sg, 'bottom', -0.5, 4, {line: true, interval: 0.1, len: 2.5,
    labels: r === 3 ? [0, 2, 4] : null, margin: 9});
  axis('x', sg, 'bottom', -0.5, 4, {ticks: [0, 1, 2, 3, 4], len: 5});
  axis('x', sg, 'top', -0.5, 4, {line: true, interval: 0.1, len: 2.5});
  axis('x', sg, 'top', -0.5, 4, {ticks: [0, 1, 2, 3, 4], len: 5});
  var sy = axis('y', sg, 'left', -0.5, 4, {line: true, interval: 0.1, len: 2.5, labels: [0, 2, 4], margin: 6});
  axis('y', sg, 'left', -0.5, 4, {ticks: [0, 1, 2, 3, 4], len: 5});
  axis('y', sg, 'right', -0.5, 4, {line: true, interval: 0.1, len: 2.5});
  axis('y', sg, 'right', -0.5, 4, {ticks: [0, 1, 2, 3, 4], len: 5});

  series.push({type: 'scatter', xAxisIndex: sx, yAxisIndex: sy, data: pairs(scAtms[r], scIs2s[r]),
    symbol: 'rect', symbolSize: 3, itemStyle: {color: '#000', opacity: 1}, z: 2});
  series.push({type: 'line', xAxisIndex: sx, yAxisIndex: sy, data: pairs(fitAtms[r], fitIs2s[r]),
    showSymbol: false, lineStyle: {color: RED, width: 8}, z: 4});
  if (r === 0) {
    series.push({type: 'line', xAxisIndex: sx, yAxisIndex: sy, data: pairs(fitTailAtm1, fitTailIs2_1),
      showSymbol: false, lineStyle: {color: RED, width: 2}, z: 4});
  }

  // texts
  text(panelTags[r], 21, tagY[r], 22, '#000');
  text(panelTitles[r], 106, titleY[r], 23, '#000');
  text(is2Sd[r], 460, sdY[r], 20.5, '#000');
  text(atmSd[r], 460, sdY[r] + 25, 20.5, RED);
  text(fitStats[r][0], 964, statY[r], 19, RED);
  text(fitStats[r][1], 964, statY[r] + 23, 19, RED);
  text(fitStats[r][2], 964, statY[r] + 46, 19, RED);
  text('Height (m)', 44, leftTop[r] + leftH[r] / 2, 21, '#000',
    {rotation: Math.PI / 2, style: {align: 'center', textAlign: 'center'}});
  text('IS-2 height (m)', 913, rightTop[r] + rightH[r] / 2, 21, '#000',
    {rotation: Math.PI / 2, style: {align: 'center', textAlign: 'center'}});
}
text('Along track distance (km)', 486, 1035, 21.5, '#000', {style: {align: 'center', textAlign: 'center'}});
text('ATM height (m)', 1064, 1035, 21.5, '#000', {style: {align: 'center', textAlign: 'center'}});

var chart = echarts.init(document.getElementById('main'));
chart.setOption({
  animation: false,
  backgroundColor: '#fff',
  grid: grids,
  xAxis: xAxes,
  yAxis: yAxes,
  series: series,
  graphic: graphics
});
</script>
</body>
</html>
